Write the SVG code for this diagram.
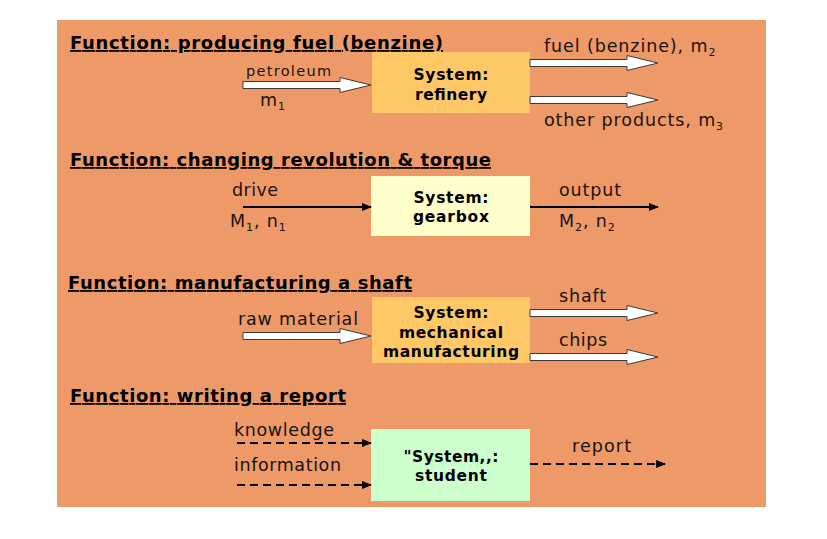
<svg xmlns="http://www.w3.org/2000/svg" width="827" height="539" viewBox="0 0 827 539">
<style>
  text { font-family: "DejaVu Sans", Verdana, sans-serif; fill: #1a1210; }
  .h { font-size: 18px; font-weight: bold; text-decoration: underline; fill: #000; }
  .lbl { font-size: 17.5px; }
  .ls { letter-spacing: 0.9px; }
  .sm { font-size: 14.5px; }
  .sub { font-size: 11px; }
  .box { font-size: 15.5px; font-weight: bold; text-anchor: middle; fill: #000; }
  .hollow { fill: #fff; stroke: #3a3a3a; stroke-width: 1; }
  .solid { stroke: #000; stroke-width: 2; fill: none; marker-end: url(#ah); }
  .dash { stroke: #000; stroke-width: 2; fill: none; stroke-dasharray: 8 5; marker-end: url(#ah); }
</style>
<defs>
  <marker id="ah" viewBox="0 0 10 8" refX="9" refY="4" markerWidth="5" markerHeight="4" orient="auto" markerUnits="strokeWidth">
    <path d="M0,0 L10,4 L0,8 Z" fill="#000"/>
  </marker>
  <path id="harrow" d="M0,-3.5 H97 V-7.5 L128,0 L97,7.5 V3.5 H0 Z"/>
</defs>
<rect x="57" y="20" width="709" height="487" fill="#EE9A68"/>

<g id="headings">
  <text class="h" x="70" y="49" textLength="373">Function: producing fuel (benzine)</text>
  <text class="h" x="70" y="166" textLength="421">Function: changing revolution &amp; torque</text>
  <text class="h" x="68" y="289" textLength="344">Function: manufacturing a shaft</text>
  <text class="h" x="70" y="402" textLength="276">Function: writing a report</text>
</g>

<g id="refinery">
  <rect x="372" y="52" width="158" height="61" fill="#FFC866"/>
  <text class="box" x="451" y="80" textLength="75">System:</text>
  <text class="box" x="451" y="100" textLength="72">refinery</text>
</g>
<g id="gearbox">
  <rect x="371" y="176" width="159" height="60" fill="#FFFFCC"/>
  <text class="box" x="451" y="203" textLength="75">System:</text>
  <text class="box" x="451" y="222" textLength="76">gearbox</text>
</g>
<g id="mechanical">
  <rect x="372" y="297" width="158" height="66" fill="#FFC866"/>
  <text class="box" x="451" y="318" textLength="75">System:</text>
  <text class="box" x="451" y="338" textLength="104">mechanical</text>
  <text class="box" x="451" y="357" textLength="136">manufacturing</text>
</g>
<g id="student">
  <rect x="371" y="429" width="159" height="72" fill="#CCFFCC"/>
  <text class="box" x="451" y="462" textLength="95">"System,,:</text>
  <text class="box" x="451" y="481" textLength="72">student</text>
</g>

<g id="connectors">
  <use href="#harrow" class="hollow" transform="translate(243,85)"/>
  <use href="#harrow" class="hollow" transform="translate(530,63)"/>
  <use href="#harrow" class="hollow" transform="translate(530,100)"/>
  <line class="solid" x1="243" y1="207" x2="371" y2="207"/>
  <line class="solid" x1="530" y1="207" x2="658" y2="207"/>
  <use href="#harrow" class="hollow" transform="translate(243,336)"/>
  <use href="#harrow" class="hollow" transform="translate(530,313)"/>
  <use href="#harrow" class="hollow" transform="translate(530,357)"/>
  <line class="dash" x1="237" y1="443" x2="371" y2="443"/>
  <line class="dash" x1="237" y1="485" x2="371" y2="485"/>
  <line class="dash" x1="530" y1="464" x2="665" y2="464"/>
</g>

<g id="labels">
  <text class="sm" x="246" y="76" textLength="85">petroleum</text>
  <text class="lbl ls" x="260" y="106">m<tspan class="sub" dy="4">1</tspan></text>
  <text class="lbl ls" x="544" y="52">fuel (benzine), m<tspan class="sub" dy="4">2</tspan></text>
  <text class="lbl ls" x="544" y="126">other products, m<tspan class="sub" dy="4">3</tspan></text>
  <text class="lbl" x="232" y="196" textLength="46">drive</text>
  <text class="lbl ls" x="230" y="227">M<tspan class="sub" dy="4">1</tspan><tspan dy="-4">, n</tspan><tspan class="sub" dy="4">1</tspan></text>
  <text class="lbl" x="559" y="196" textLength="62">output</text>
  <text class="lbl ls" x="559" y="227">M<tspan class="sub" dy="4">2</tspan><tspan dy="-4">, n</tspan><tspan class="sub" dy="4">2</tspan></text>
  <text class="lbl" x="238" y="325" textLength="120">raw material</text>
  <text class="lbl" x="559" y="302" textLength="47">shaft</text>
  <text class="lbl" x="559" y="346" textLength="48">chips</text>
  <text class="lbl" x="234" y="436" textLength="100">knowledge</text>
  <text class="lbl" x="234" y="471" textLength="107">information</text>
  <text class="lbl" x="572" y="452" textLength="59">report</text>
</g>
</svg>
